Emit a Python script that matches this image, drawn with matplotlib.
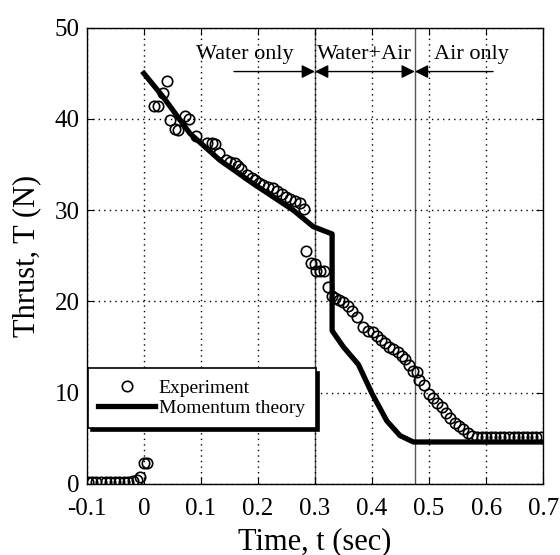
import matplotlib.pyplot as plt

plt.rcParams['font.family'] = ['Liberation Serif', 'DejaVu Serif']
plt.rcParams['mathtext.fontset'] = 'stix'

# measured thrust (s, N)
t_exp = [-0.098, -0.091, -0.083, -0.075, -0.067, -0.059, -0.051, -0.043,
         -0.035, -0.027, -0.019, -0.012, -0.007, 0.000, 0.005,
         0.018, 0.025, 0.033, 0.040, 0.046, 0.054, 0.060, 0.072, 0.079,
         0.092, 0.110, 0.119, 0.125, 0.131, 0.144, 0.151, 0.160, 0.165,
         0.171, 0.180, 0.189, 0.195, 0.202, 0.209, 0.218, 0.226, 0.234,
         0.242, 0.249, 0.257, 0.265, 0.274, 0.280,
         0.285, 0.293, 0.300, 0.302, 0.308, 0.316, 0.323, 0.329, 0.335,
         0.342, 0.349, 0.357, 0.365, 0.374, 0.385, 0.393, 0.401, 0.408,
         0.415, 0.423, 0.430, 0.437, 0.445, 0.452, 0.458, 0.464, 0.471,
         0.478, 0.483, 0.491, 0.500, 0.507, 0.514, 0.522, 0.530, 0.537,
         0.545, 0.553, 0.560, 0.568, 0.576, 0.584, 0.592, 0.600, 0.608,
         0.616, 0.624, 0.632, 0.640, 0.648, 0.656, 0.664, 0.672, 0.680,
         0.688, 0.696]
T_exp = [0.2, 0.2, 0.2, 0.2, 0.2, 0.2, 0.2, 0.2,
         0.2, 0.2, 0.3, 0.4, 0.8, 2.3, 2.3,
         41.4, 41.4, 42.9, 44.2, 39.9, 38.9, 38.8, 40.3, 40.0,
         38.1, 37.4, 37.4, 37.3, 36.3, 35.5, 35.3, 35.2, 34.9,
         34.5, 33.9, 33.5, 33.3, 33.0, 32.8, 32.6, 32.4, 32.1,
         31.8, 31.5, 31.2, 31.0, 30.8, 30.1,
         25.5, 24.2, 24.1, 23.3, 23.3, 23.3, 21.6, 20.6, 20.4,
         20.2, 19.9, 19.5, 19.0, 18.3, 17.2, 16.8, 16.6, 16.2,
         15.8, 15.4, 15.05, 14.8, 14.5, 14.0, 13.7, 13.0, 12.4,
         12.3, 11.4, 10.8, 9.9, 9.4, 8.9, 8.4, 7.8, 7.2,
         6.7, 6.4, 6.0, 5.6, 5.3, 5.1, 5.1, 5.1, 5.1,
         5.1, 5.1, 5.1, 5.1, 5.1, 5.1, 5.1, 5.1, 5.1,
         5.1, 5.1]

# momentum theory prediction
t_th = [0.0, 0.034, 0.081, 0.133, 0.192, 0.262, 0.297, 0.330,
        0.330, 0.350, 0.376, 0.400, 0.426, 0.449, 0.4725, 0.700]
T_th = [45.0, 42.4, 38.4, 35.5, 32.9, 30.0, 28.2, 27.4,
        16.8, 15.0, 13.1, 9.9, 6.9, 5.3, 4.6, 4.6]

# phase boundaries
t_water_end = 0.3
t_air_start = 0.475

xticks = [-0.1, 0, 0.1, 0.2, 0.3, 0.4, 0.5, 0.6, 0.7]
xtick_labels = ['-0.1', '0', '0.1', '0.2', '0.3', '0.4', '0.5', '0.6', '0.7']
yticks = [0, 10, 20, 30, 40, 50]

fig = plt.figure(figsize=(5.6, 5.55), dpi=100)
ax = fig.add_axes([0.155, 0.128, 0.815, 0.822])

ax.axvline(t_water_end, color='#555555', lw=1.0, zorder=1)
ax.axvline(t_air_start, color='#555555', lw=1.0, zorder=1)

ax.plot(t_exp, T_exp, 'o', mfc='none', mec='black', ms=7.5, mew=1.2,
        label='Experiment', zorder=3)
ax.plot(t_th, T_th, '-', color='black', lw=3.8, label='Momentum theory',
        zorder=4)

# phase annotations
y_arr = 45.2
arrow = dict(color='black', lw=1.0, mutation_scale=20, shrinkA=0, shrinkB=0)
ax.annotate('', xy=(t_water_end, y_arr), xytext=(0.158, y_arr),
            arrowprops=dict(arrowstyle='-|>', **arrow))
ax.annotate('', xy=(t_air_start, y_arr), xytext=(t_water_end, y_arr),
            arrowprops=dict(arrowstyle='<|-|>', **arrow))
ax.annotate('', xy=(t_air_start, y_arr), xytext=(0.612, y_arr),
            arrowprops=dict(arrowstyle='-|>', **arrow))
ax.text(0.177, 46.0, 'Water only', ha='center', va='bottom', fontsize=16)
ax.text(0.386, 46.0, 'Water+Air', ha='center', va='bottom', fontsize=16)
ax.text(0.575, 46.0, 'Air only', ha='center', va='bottom', fontsize=16)

ax.set_xlim(-0.1, 0.7)
ax.set_ylim(0, 50)
ax.set_xticks(xticks)
ax.set_xticklabels(xtick_labels)
ax.set_yticks(yticks)
ax.tick_params(direction='in', top=True, right=True, length=5,
               labelsize=18)
ax.tick_params(axis='x', pad=10)
ax.tick_params(axis='y', pad=5)
ax.grid(True, color='black', linestyle=(0, (1, 3)), lw=1.0)
for s in ax.spines.values():
    s.set_linewidth(1.0)

ax.set_xlabel('Time, t (sec)', fontsize=22, labelpad=5)
ax.set_ylabel('Thrust, T (N)', fontsize=22, labelpad=10)

leg = ax.legend(loc='lower left', bbox_to_anchor=(0.002, 0.123),
                borderaxespad=0, fontsize=14, fancybox=False, framealpha=1,
                edgecolor='black', handlelength=2.9, handletextpad=0.2,
                borderpad=0.55, labelspacing=0.15,
                shadow={'color': 'black', 'alpha': 1, 'ox': 2.5, 'oy': -2.5})
leg.get_frame().set_linewidth(1.2)

fig.savefig('out.png', dpi=100)
